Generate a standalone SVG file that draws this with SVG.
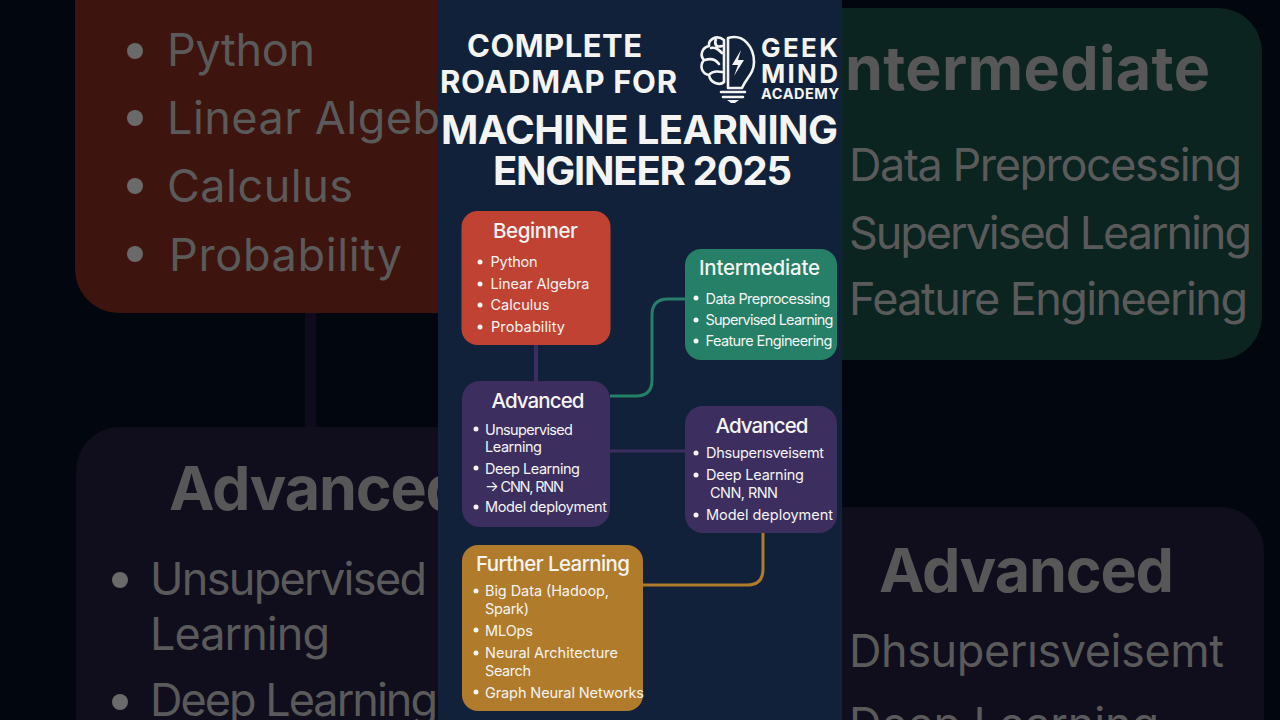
<svg xmlns="http://www.w3.org/2000/svg" width="1280" height="720" viewBox="0 0 1280 720">
<defs><style>
text{font-family:"Inter","Noto Sans","Liberation Sans",sans-serif;fill:#f4f4f2}
.t{font-weight:700}
.h{font-weight:500;font-size:20.5px}
.i{font-size:14.5px}
.b{font-size:45px;fill:#5a5a5a}
.bh{font-size:61px;font-weight:700;fill:#575757}
.bl{fill:#6a6a6a}
.dot{fill:#f4f4f2}
.lg{fill:none;stroke:#f4f4f2;stroke-width:2.6;stroke-linecap:round;stroke-linejoin:round}
</style></defs>
<rect width="1280" height="720" fill="#02060f"/>
<g id="backdrop">
<rect x="75" y="-60" width="420" height="373" rx="44" fill="#3e140e"/>
<rect x="305" y="313" width="11" height="114" fill="#0e0c1c"/>
<rect x="76" y="427" width="420" height="340" rx="44" fill="#100e1c"/>
<rect x="780" y="8" width="482" height="352" rx="44" fill="#0b2420"/>
<rect x="780" y="507" width="484" height="260" rx="44" fill="#100e1c"/>
<g class="bl"><circle cx="135" cy="51" r="8"/><circle cx="135" cy="118" r="8"/><circle cx="135" cy="186" r="8"/><circle cx="135" cy="254" r="8"/><circle cx="120" cy="580" r="8"/><circle cx="120" cy="702" r="8"/></g>
<text class="b" x="167" y="66" textLength="148">Python</text>
<text class="b" x="167" y="134" textLength="273">Linear Algeb</text>
<text class="b" x="167" y="202" textLength="186">Calculus</text>
<text class="b" x="169" y="271" textLength="233">Probability</text>
<text class="bh" x="169" y="510" textLength="295">Advanced</text>
<text class="b" x="150" y="595" textLength="277">Unsupervised</text>
<text class="b" x="150" y="650" textLength="180">Learning</text>
<text class="b" x="150" y="716" textLength="288">Deep Learning</text>
<text class="bh" x="845" y="90" textLength="365">ntermediate</text>
<text class="b" x="849" y="181" textLength="393">Data Preprocessing</text>
<text class="b" x="849" y="249" textLength="403">Supervised Learning</text>
<text class="b" x="849" y="315" textLength="399">Feature Engineering</text>
<text class="bh" x="879" y="592" textLength="295">Advanced</text>
<text class="b" x="849" y="667" textLength="375">Dhsuperısveisemt</text>
<text class="b" x="849" y="740" textLength="310">Deep Learning</text>
</g>
<rect id="panel" x="438" y="0" width="404" height="720" fill="#11213a"/>
<g id="title">
<text class="t" x="467" y="57" font-size="31" textLength="175">COMPLETE</text>
<text class="t" x="440" y="93" font-size="31" textLength="237">ROADMAP FOR</text>
<text class="t" x="441" y="144" font-size="40" textLength="397">MACHINE LEARNING</text>
<text class="t" x="493" y="185" font-size="40" textLength="299">ENGINEER 2025</text>
</g>
<g id="logo">
<path class="lg" d="M728 38C744 33 754 48 754 62C754 74 746 78 742 88H728Z"/>
<path class="lg" d="M724 40C716 34 708 40 709 46C701 48 700 56 704 60C699 66 702 74 709 75C710 83 720 86 724 82M724 40V82M711 48C716 47 719 50 722 53M705 60C711 58 716 60 719 64M709 75C712 71 717 71 722 72M716 39C714 44 716 48 722 46"/>
<polygon points="741,50 732,65 738,65 734,76 744,60 738,60" fill="#f4f4f2"/>
<path class="lg" d="M721 92H745M723 97H743"/>
<path d="M727 100H739L735 103H731Z" fill="#f4f4f2"/>
<text class="t" x="761" y="57" font-size="26" textLength="77">GEEK</text>
<text class="t" x="761" y="83" font-size="26" textLength="77">MIND</text>
<text class="t" x="761" y="99" font-size="14.5" textLength="78">ACADEMY</text>
</g>
<g id="connectors" fill="none">
<path d="M536 345V381" stroke="#3c2e5e" stroke-width="4"/>
<path d="M610 396H636Q652 396 652 380V315Q652 299 668 299H685" stroke="#258067" stroke-width="3"/>
<path d="M610 451H685" stroke="#3c2e5e" stroke-width="3"/>
<path d="M763 533V569Q763 585 747 585H643" stroke="#b07b2a" stroke-width="3"/>
</g>
<g id="beginner">
<rect x="461.5" y="211" width="149" height="134" rx="16" fill="#c04233"/>
<text class="h" x="493" y="238" textLength="85">Beginner</text>
<g class="dot"><circle cx="480" cy="262" r="2.5"/><circle cx="480" cy="284" r="2.5"/><circle cx="480" cy="305" r="2.5"/><circle cx="480" cy="327" r="2.5"/></g>
<text class="i" x="490.5" y="267" textLength="47">Python</text>
<text class="i" x="490.5" y="289" textLength="99">Linear Algebra</text>
<text class="i" x="490.5" y="310" textLength="59">Calculus</text>
<text class="i" x="491" y="332" textLength="74">Probability</text>
</g>
<g id="intermediate">
<rect x="685" y="249" width="152" height="111" rx="16" fill="#258067"/>
<text class="h" x="699" y="275" textLength="121">Intermediate</text>
<g class="dot"><circle cx="696" cy="298" r="2.5"/><circle cx="696" cy="320" r="2.5"/><circle cx="696" cy="341" r="2.5"/></g>
<text class="i" x="705.5" y="303.5" textLength="125">Data Preprocessing</text>
<text class="i" x="705.5" y="324.5" textLength="128">Supervised Learning</text>
<text class="i" x="705.5" y="345.5" textLength="127">Feature Engineering</text>
</g>
<g id="advanced-1">
<rect x="462" y="381" width="148" height="146" rx="18" fill="#3c2e5e"/>
<text class="h" x="491.5" y="407.5" textLength="93">Advanced</text>
<g class="dot"><circle cx="476" cy="429" r="2.5"/><circle cx="476" cy="468" r="2.5"/><circle cx="476" cy="507" r="2.5"/></g>
<text class="i" x="485" y="434.5" textLength="88">Unsupervised</text>
<text class="i" x="485" y="452" textLength="57">Learning</text>
<text class="i" x="485" y="474" textLength="95">Deep Learning</text>
<text class="i" x="485" y="491.5" textLength="79">→ CNN, RNN</text>
<text class="i" x="485" y="512" textLength="122">Model deployment</text>
</g>
<g id="advanced-2">
<rect x="685" y="406" width="152" height="127" rx="18" fill="#3c2e5e"/>
<text class="h" x="715.5" y="433" textLength="93">Advanced</text>
<g class="dot"><circle cx="696" cy="453" r="2.5"/><circle cx="696" cy="475" r="2.5"/><circle cx="696" cy="515" r="2.5"/></g>
<text class="i" x="706" y="457.5" textLength="118">Dhsuperısveisemt</text>
<text class="i" x="706" y="480" textLength="98">Deep Learning</text>
<text class="i" x="710" y="498" textLength="68">CNN, RNN</text>
<text class="i" x="706" y="520" textLength="127">Model deployment</text>
</g>
<g id="further-learning">
<rect x="462" y="545" width="181" height="166" rx="16" fill="#b07b2a"/>
<text class="h" x="476" y="571" textLength="154">Further Learning</text>
<g class="dot"><circle cx="476" cy="591" r="2.5"/><circle cx="476" cy="630" r="2.5"/><circle cx="476" cy="653" r="2.5"/><circle cx="476" cy="692" r="2.5"/></g>
<text class="i" x="485" y="596" textLength="124">Big Data (Hadoop,</text>
<text class="i" x="485" y="613.5" textLength="44">Spark)</text>
<text class="i" x="485" y="635.5" textLength="48">MLOps</text>
<text class="i" x="485" y="658" textLength="133">Neural Architecture</text>
<text class="i" x="485" y="675.5" textLength="46">Search</text>
<text class="i" x="485" y="697.5" textLength="159">Graph Neural Networks</text>
</g>
</svg>
